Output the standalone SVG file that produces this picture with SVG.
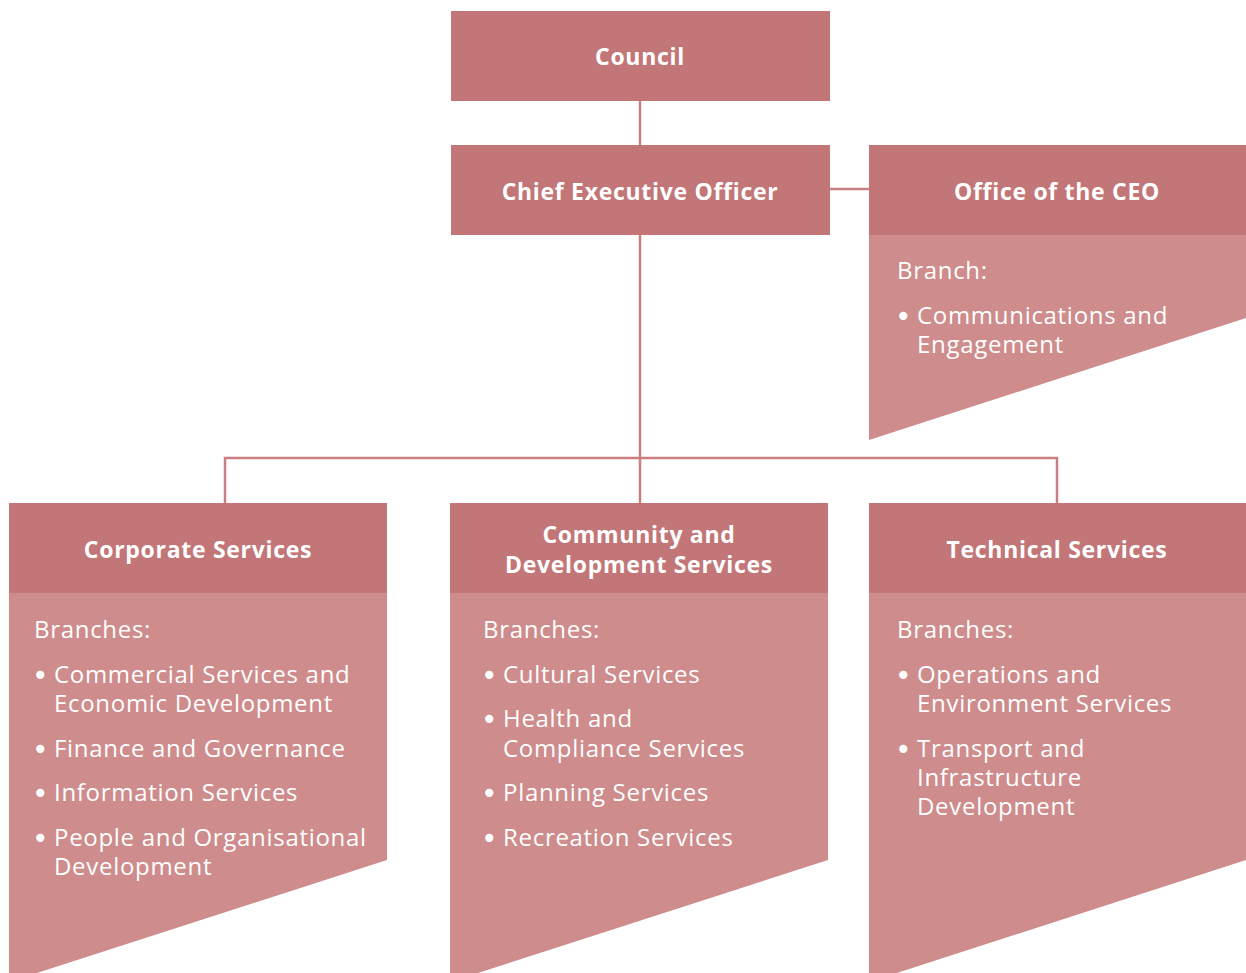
<svg xmlns="http://www.w3.org/2000/svg" width="1246" height="973" viewBox="0 0 1246 973">
  <style>
    .head { fill: #c27677; }
    .body { fill: #ce8c8c; }
    .link { stroke: #c97f81; stroke-width: 2.5; fill: none; }
    .title { font-family: "Open Sans", "Noto Sans", sans-serif; font-weight: 700; font-size: 23px; letter-spacing: 0.7px; fill: #ffffff; text-anchor: middle; }
    .txt { font-family: "Open Sans", "Noto Sans", sans-serif; font-size: 24px; letter-spacing: 0.7px; fill: #ffffff; }
    .dot { font-family: "DejaVu Sans", sans-serif; font-size: 28px; }
  </style>
  <rect width="1246" height="973" fill="#ffffff"/>

  <g id="connectors">
    <line class="link" x1="640" y1="101" x2="640" y2="145"/>
    <line class="link" x1="830" y1="189" x2="869" y2="189"/>
    <line class="link" x1="640" y1="235" x2="640" y2="503"/>
    <polyline class="link" points="225,503 225,458 1057,458 1057,503"/>
  </g>

  <g id="council">
    <rect class="head" x="451" y="11" width="379" height="90"/>
    <text class="title" x="640" y="65">Council</text>
  </g>

  <g id="ceo">
    <rect class="head" x="451" y="145" width="379" height="90"/>
    <text class="title" x="640" y="200">Chief Executive Officer</text>
  </g>

  <g id="office-ceo">
    <polygon class="body" points="869,235 1246,235 1246,318 869,440"/>
    <rect class="head" x="869" y="145" width="377" height="90"/>
    <text class="title" x="1057" y="200">Office of the CEO</text>
    <text class="txt" x="897" y="279">Branch:</text>
    <text class="txt" x="895" y="324"><tspan class="dot" dy="2">•</tspan><tspan x="917" dy="-2">Communications and</tspan><tspan x="917" dy="29">Engagement</tspan></text>
  </g>

  <g id="corporate">
    <polygon class="body" points="9,593 387,593 387,860 9,982"/>
    <rect class="head" x="9" y="503" width="378" height="90"/>
    <text class="title" x="198" y="558">Corporate Services</text>
    <text class="txt" x="34" y="638">Branches:</text>
    <text class="txt" x="32" y="683"><tspan class="dot" dy="2">•</tspan><tspan x="54" dy="-2">Commercial Services and</tspan><tspan x="54" dy="29">Economic Development</tspan></text>
    <text class="txt" x="32" y="757"><tspan class="dot" dy="2">•</tspan><tspan x="54" dy="-2">Finance and Governance</tspan></text>
    <text class="txt" x="32" y="801"><tspan class="dot" dy="2">•</tspan><tspan x="54" dy="-2">Information Services</tspan></text>
    <text class="txt" x="32" y="846"><tspan class="dot" dy="2">•</tspan><tspan x="54" dy="-2">People and Organisational</tspan><tspan x="54" dy="29">Development</tspan></text>
  </g>

  <g id="community">
    <polygon class="body" points="450,593 828,593 828,860 450,982"/>
    <rect class="head" x="450" y="503" width="378" height="90"/>
    <text class="title" x="639" y="543">Community and<tspan x="639" dy="30">Development Services</tspan></text>
    <text class="txt" x="483" y="638">Branches:</text>
    <text class="txt" x="481" y="683"><tspan class="dot" dy="2">•</tspan><tspan x="503" dy="-2">Cultural Services</tspan></text>
    <text class="txt" x="481" y="727"><tspan class="dot" dy="2">•</tspan><tspan x="503" dy="-2">Health and</tspan><tspan x="503" dy="30">Compliance Services</tspan></text>
    <text class="txt" x="481" y="801"><tspan class="dot" dy="2">•</tspan><tspan x="503" dy="-2">Planning Services</tspan></text>
    <text class="txt" x="481" y="846"><tspan class="dot" dy="2">•</tspan><tspan x="503" dy="-2">Recreation Services</tspan></text>
  </g>

  <g id="technical">
    <polygon class="body" points="869,593 1246,593 1246,860 869,982"/>
    <rect class="head" x="869" y="503" width="377" height="90"/>
    <text class="title" x="1057" y="558">Technical Services</text>
    <text class="txt" x="897" y="638">Branches:</text>
    <text class="txt" x="895" y="683"><tspan class="dot" dy="2">•</tspan><tspan x="917" dy="-2">Operations and</tspan><tspan x="917" dy="29">Environment Services</tspan></text>
    <text class="txt" x="895" y="757"><tspan class="dot" dy="2">•</tspan><tspan x="917" dy="-2">Transport and</tspan><tspan x="917" dy="29">Infrastructure</tspan><tspan x="917" dy="29">Development</tspan></text>
  </g>
</svg>
